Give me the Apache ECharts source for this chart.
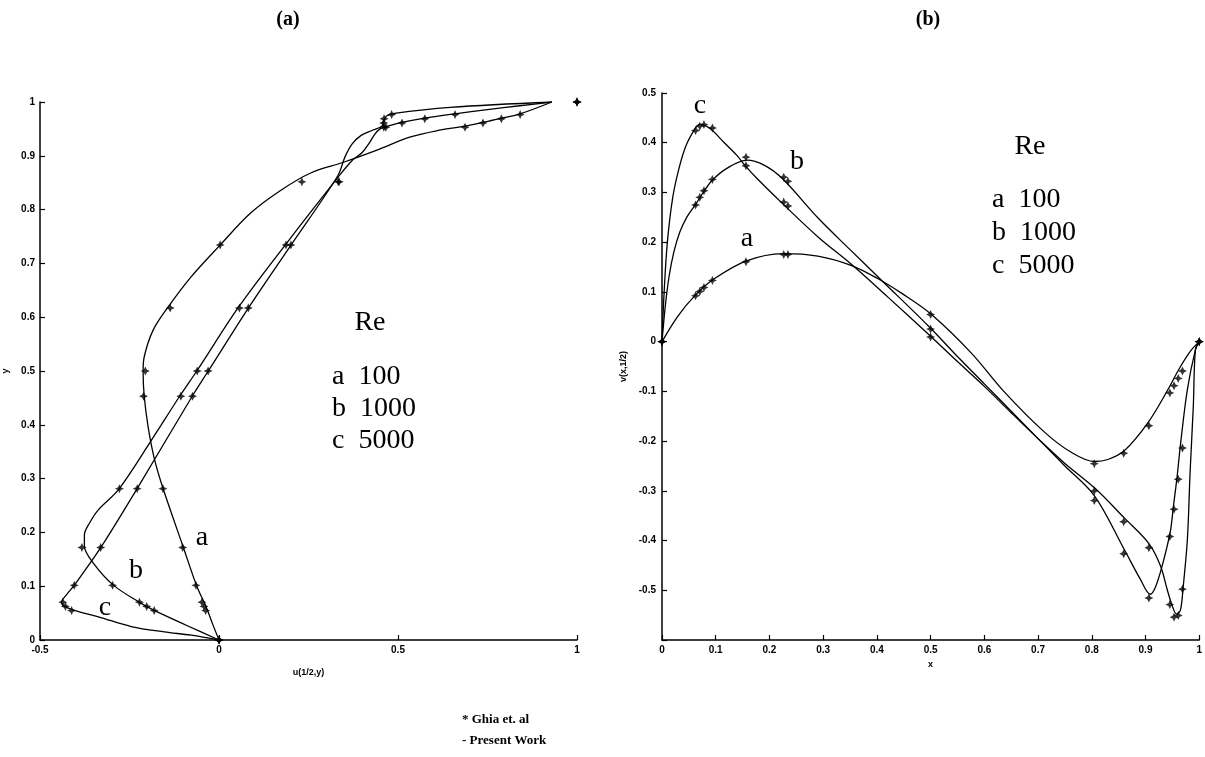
<!DOCTYPE html>
<html>
<head>
<meta charset="utf-8">
<script src="https://cdn.jsdelivr.net/npm/echarts@6/dist/echarts.min.js"></script>
<style>
    html, body { margin: 0; padding: 0; background: #fff; }
    #main { width: 1205px; height: 757px; }
</style>
</head>
<body>
<div id="main"></div>
<script>
// (a) u along the vertical centre line - Ghia et al. points
var ghiaY = [0, 0.0547, 0.0625, 0.0703, 0.1016, 0.1719, 0.2813, 0.4531, 0.5, 0.6172, 0.7344, 0.8516, 0.9531, 0.9609, 0.9688, 0.9766, 1];
var ghiaU100 = [0, -0.03717, -0.04192, -0.04775, -0.06434, -0.1015, -0.15662, -0.2109, -0.20581, -0.13641, 0.00332, 0.23151, 0.68717, 0.73722, 0.78871, 0.84123, 1];
var ghiaU1000 = [0, -0.18109, -0.20196, -0.2222, -0.2973, -0.38289, -0.27805, -0.10648, -0.0608, 0.05702, 0.18719, 0.33304, 0.46604, 0.51117, 0.57492, 0.65928, 1];
var ghiaU5000 = [0, -0.41165, -0.42901, -0.43643, -0.40435, -0.3305, -0.22855, -0.07404, -0.03039, 0.08183, 0.20087, 0.33556, 0.46036, 0.45992, 0.4612, 0.48223, 1];

// (a) present work curves, [u, y]
var curveU100 = [[0, 0], [-0.018, 0.03], [-0.036, 0.062], [-0.062, 0.1], [-0.1, 0.173], [-0.156, 0.281], [-0.181, 0.338], [-0.198, 0.396], [-0.209, 0.454], [-0.212, 0.5], [-0.209, 0.526], [-0.184, 0.576], [-0.142, 0.619], [-0.078, 0.675], [0.003, 0.734], [0.089, 0.794], [0.173, 0.836], [0.256, 0.868], [0.348, 0.888], [0.443, 0.911], [0.535, 0.935], [0.62, 0.948], [0.687, 0.955], [0.737, 0.962], [0.789, 0.97], [0.841, 0.978], [0.93, 1.0]];
var curveU1000 = [[0, 0], [-0.09, 0.027], [-0.181, 0.055], [-0.222, 0.07], [-0.295, 0.102], [-0.351, 0.143], [-0.376, 0.175], [-0.376, 0.195], [-0.362, 0.217], [-0.337, 0.242], [-0.279, 0.281], [-0.19, 0.37], [-0.109, 0.454], [-0.062, 0.5], [0.055, 0.619], [0.187, 0.736], [0.33, 0.858], [0.37, 0.89], [0.4, 0.906], [0.42, 0.924], [0.435, 0.94], [0.45, 0.95], [0.466, 0.954], [0.511, 0.962], [0.575, 0.97], [0.659, 0.978], [0.75, 0.986], [0.84, 0.993], [0.93, 1.0]];
var curveU5000 = [[0, 0], [-0.078, 0.009], [-0.153, 0.015], [-0.245, 0.025], [-0.337, 0.043], [-0.404, 0.055], [-0.43, 0.062], [-0.44, 0.07], [-0.425, 0.085], [-0.404, 0.102], [-0.33, 0.172], [-0.229, 0.281], [-0.074, 0.454], [-0.03, 0.5], [0.082, 0.617], [0.201, 0.734], [0.331, 0.862], [0.352, 0.898], [0.372, 0.922], [0.397, 0.938], [0.43, 0.948], [0.455, 0.955], [0.46, 0.965], [0.468, 0.974], [0.49, 0.979], [0.646, 0.99], [0.93, 1.0]];

// (b) v along the horizontal centre line - Ghia et al. points
var ghiaX = [0, 0.0625, 0.0703, 0.0781, 0.0938, 0.1563, 0.2266, 0.2344, 0.5, 0.8047, 0.8594, 0.9063, 0.9453, 0.9531, 0.9609, 0.9688, 1];
var ghiaV100 = [0, 0.09233, 0.10091, 0.1089, 0.12317, 0.16077, 0.17507, 0.17527, 0.05454, -0.24533, -0.22445, -0.16914, -0.10313, -0.08864, -0.07391, -0.05906, 0];
var ghiaV1000 = [0, 0.27485, 0.29012, 0.30353, 0.32627, 0.37095, 0.33075, 0.32235, 0.02526, -0.31966, -0.42665, -0.5155, -0.39188, -0.33714, -0.27669, -0.21388, 0];
var ghiaV5000 = [0, 0.42447, 0.43329, 0.43648, 0.42951, 0.35368, 0.28066, 0.2728, 0.00945, -0.30018, -0.36214, -0.41442, -0.52876, -0.55408, -0.55069, -0.49774, 0];

// (b) present work curves, [x, v]
var curveV100 = [[0, 0], [0.03, 0.052], [0.0625, 0.094], [0.094, 0.124], [0.156, 0.162], [0.226, 0.177], [0.29, 0.172], [0.353, 0.153], [0.403, 0.126], [0.445, 0.098], [0.5, 0.056], [0.575, -0.022], [0.638, -0.102], [0.712, -0.182], [0.761, -0.222], [0.805, -0.241], [0.83, -0.237], [0.861, -0.219], [0.904, -0.164], [0.941, -0.098], [0.963, -0.054], [0.983, -0.02], [1, 0]];
var curveV1000 = [[0, 0], [0.006, 0.07], [0.013, 0.13], [0.022, 0.18], [0.033, 0.22], [0.046, 0.25], [0.0625, 0.276], [0.078, 0.302], [0.094, 0.325], [0.12, 0.348], [0.158, 0.365], [0.19, 0.355], [0.224, 0.328], [0.291, 0.248], [0.35, 0.185], [0.408, 0.124], [0.5, 0.027], [0.55, -0.03], [0.6, -0.085], [0.65, -0.14], [0.7, -0.195], [0.75, -0.25], [0.805, -0.31], [0.861, -0.419], [0.89, -0.477], [0.909, -0.508], [0.918, -0.495], [0.93, -0.455], [0.946, -0.383], [0.952, -0.331], [0.959, -0.27], [0.965, -0.208], [0.978, -0.096], [0.993, -0.016], [1, 0]];
var curveV5000 = [[0, 0], [0.004, 0.1], [0.01, 0.2], [0.02, 0.29], [0.032, 0.35], [0.045, 0.395], [0.0625, 0.43], [0.07, 0.437], [0.089, 0.429], [0.115, 0.401], [0.139, 0.375], [0.154, 0.355], [0.176, 0.329], [0.224, 0.278], [0.291, 0.21], [0.353, 0.155], [0.42, 0.09], [0.5, 0.011], [0.55, -0.04], [0.6, -0.09], [0.65, -0.143], [0.7, -0.195], [0.75, -0.245], [0.805, -0.294], [0.861, -0.355], [0.907, -0.407], [0.928, -0.451], [0.94, -0.497], [0.95, -0.532], [0.958, -0.548], [0.965, -0.54], [0.97, -0.495], [0.978, -0.397], [0.983, -0.263], [0.989, -0.13], [0.993, -0.016], [1, 0]];

// legend / labels
var reNames = ['a  100', 'b  1000', 'c  5000'];
var footNotes = ['* Ghia et. al', '- Present Work'];

var serif = '"Liberation Serif", "Times New Roman", serif';
var sans = '"Liberation Sans", Arial, sans-serif';
var star = 'path://M0,-5L1.6,-1.6L5,0L1.6,1.6L0,5L-1.6,1.6L-5,0L-1.6,-1.6Z';

function zip(a, b) {
    return a.map(function (v, i) { return [v, b[i]]; });
}

function axisCommon(extra) {
    var ax = {
        type: 'value',
        splitLine: { show: false },
        axisLine: { show: true, onZero: false, lineStyle: { color: '#000', width: 1.5 } },
        axisTick: { show: true, inside: true, length: 5, lineStyle: { color: '#000', width: 1.2 } },
        axisLabel: { color: '#000', fontFamily: sans, fontWeight: 'bold', fontSize: 10, margin: 5, showMinLabel: true, showMaxLabel: true },
        nameTextStyle: { color: '#000', fontFamily: sans, fontWeight: 'bold', fontSize: 9 },
        nameLocation: 'middle'
    };
    for (var k in extra) ax[k] = extra[k];
    return ax;
}

function curve(data, xi) {
    return {
        type: 'line', xAxisIndex: xi, yAxisIndex: xi, data: data,
        smooth: 0.35, symbol: 'none', silent: true,
        lineStyle: { color: '#000', width: 1.3 }
    };
}

function points(data, xi) {
    return {
        type: 'scatter', xAxisIndex: xi, yAxisIndex: xi, data: data,
        symbol: star, symbolSize: 9, silent: true,
        itemStyle: { color: '#000' }, z: 5
    };
}

function txt(x, y, s, size, align, bold) {
    return {
        type: 'text', x: x, y: y,
        style: {
            text: s, fill: '#000', font: (bold ? 'bold ' : '') + size + 'px ' + serif,
            align: align || 'left', verticalAlign: 'middle'
        }
    };
}

var graphics = [
    txt(288, 20, '(a)', 20, 'center', true),
    txt(928, 20, '(b)', 20, 'center', true),
    txt(370, 323, 'Re', 28, 'center'),
    txt(1030, 147, 'Re', 28, 'center'),
    txt(202, 538, 'a', 28, 'center'),
    txt(136, 571, 'b', 28, 'center'),
    txt(105, 608, 'c', 28, 'center'),
    txt(700, 106, 'c', 28, 'center'),
    txt(797, 162, 'b', 28, 'center'),
    txt(747, 239, 'a', 28, 'center')
];
reNames.forEach(function (s, i) {
    graphics.push(txt(332, 377 + i * 32, s, 28));
    graphics.push(txt(992, 200 + i * 33, s, 28));
});
footNotes.forEach(function (s, i) {
    graphics.push(txt(462, 720 + i * 21, s, 13, 'left', true));
});

var myChart = echarts.init(document.getElementById('main'));
var option = {
    animation: false,
    backgroundColor: '#fff',
    grid: [
        { left: 38, top: 102, width: 539, height: 538 },
        { left: 662, top: 93, width: 540, height: 547 }
    ],
    xAxis: [
        axisCommon({ gridIndex: 0, min: -0.5, max: 1, interval: 0.5, name: 'u(1/2,y)', nameGap: 28 }),
        axisCommon({ gridIndex: 1, min: 0, max: 1, interval: 0.1, name: 'x', nameGap: 17 })
    ],
    yAxis: [
        axisCommon({ gridIndex: 0, min: 0, max: 1, interval: 0.1, name: 'y', nameGap: 30 }),
        axisCommon({
            gridIndex: 1, min: -0.6, max: 0.5, interval: 0.1, name: 'v(x,1/2)', nameGap: 34,
            axisLabel: {
                color: '#000', fontFamily: sans, fontWeight: 'bold', fontSize: 10, margin: 6,
                showMinLabel: true, showMaxLabel: true,
                formatter: function (v) {
                    if (Math.abs(v + 0.6) < 1e-6) return '';
                    return String(Math.round(v * 10) / 10);
                }
            }
        })
    ],
    series: [
        curve(curveU100, 0), curve(curveU1000, 0), curve(curveU5000, 0),
        points(zip(ghiaU100, ghiaY), 0), points(zip(ghiaU1000, ghiaY), 0), points(zip(ghiaU5000, ghiaY), 0),
        curve(curveV100, 1), curve(curveV1000, 1), curve(curveV5000, 1),
        points(zip(ghiaX, ghiaV100), 1), points(zip(ghiaX, ghiaV1000), 1), points(zip(ghiaX, ghiaV5000), 1)
    ],
    graphic: graphics
};
myChart.setOption(option);
</script>
</body>
</html>
